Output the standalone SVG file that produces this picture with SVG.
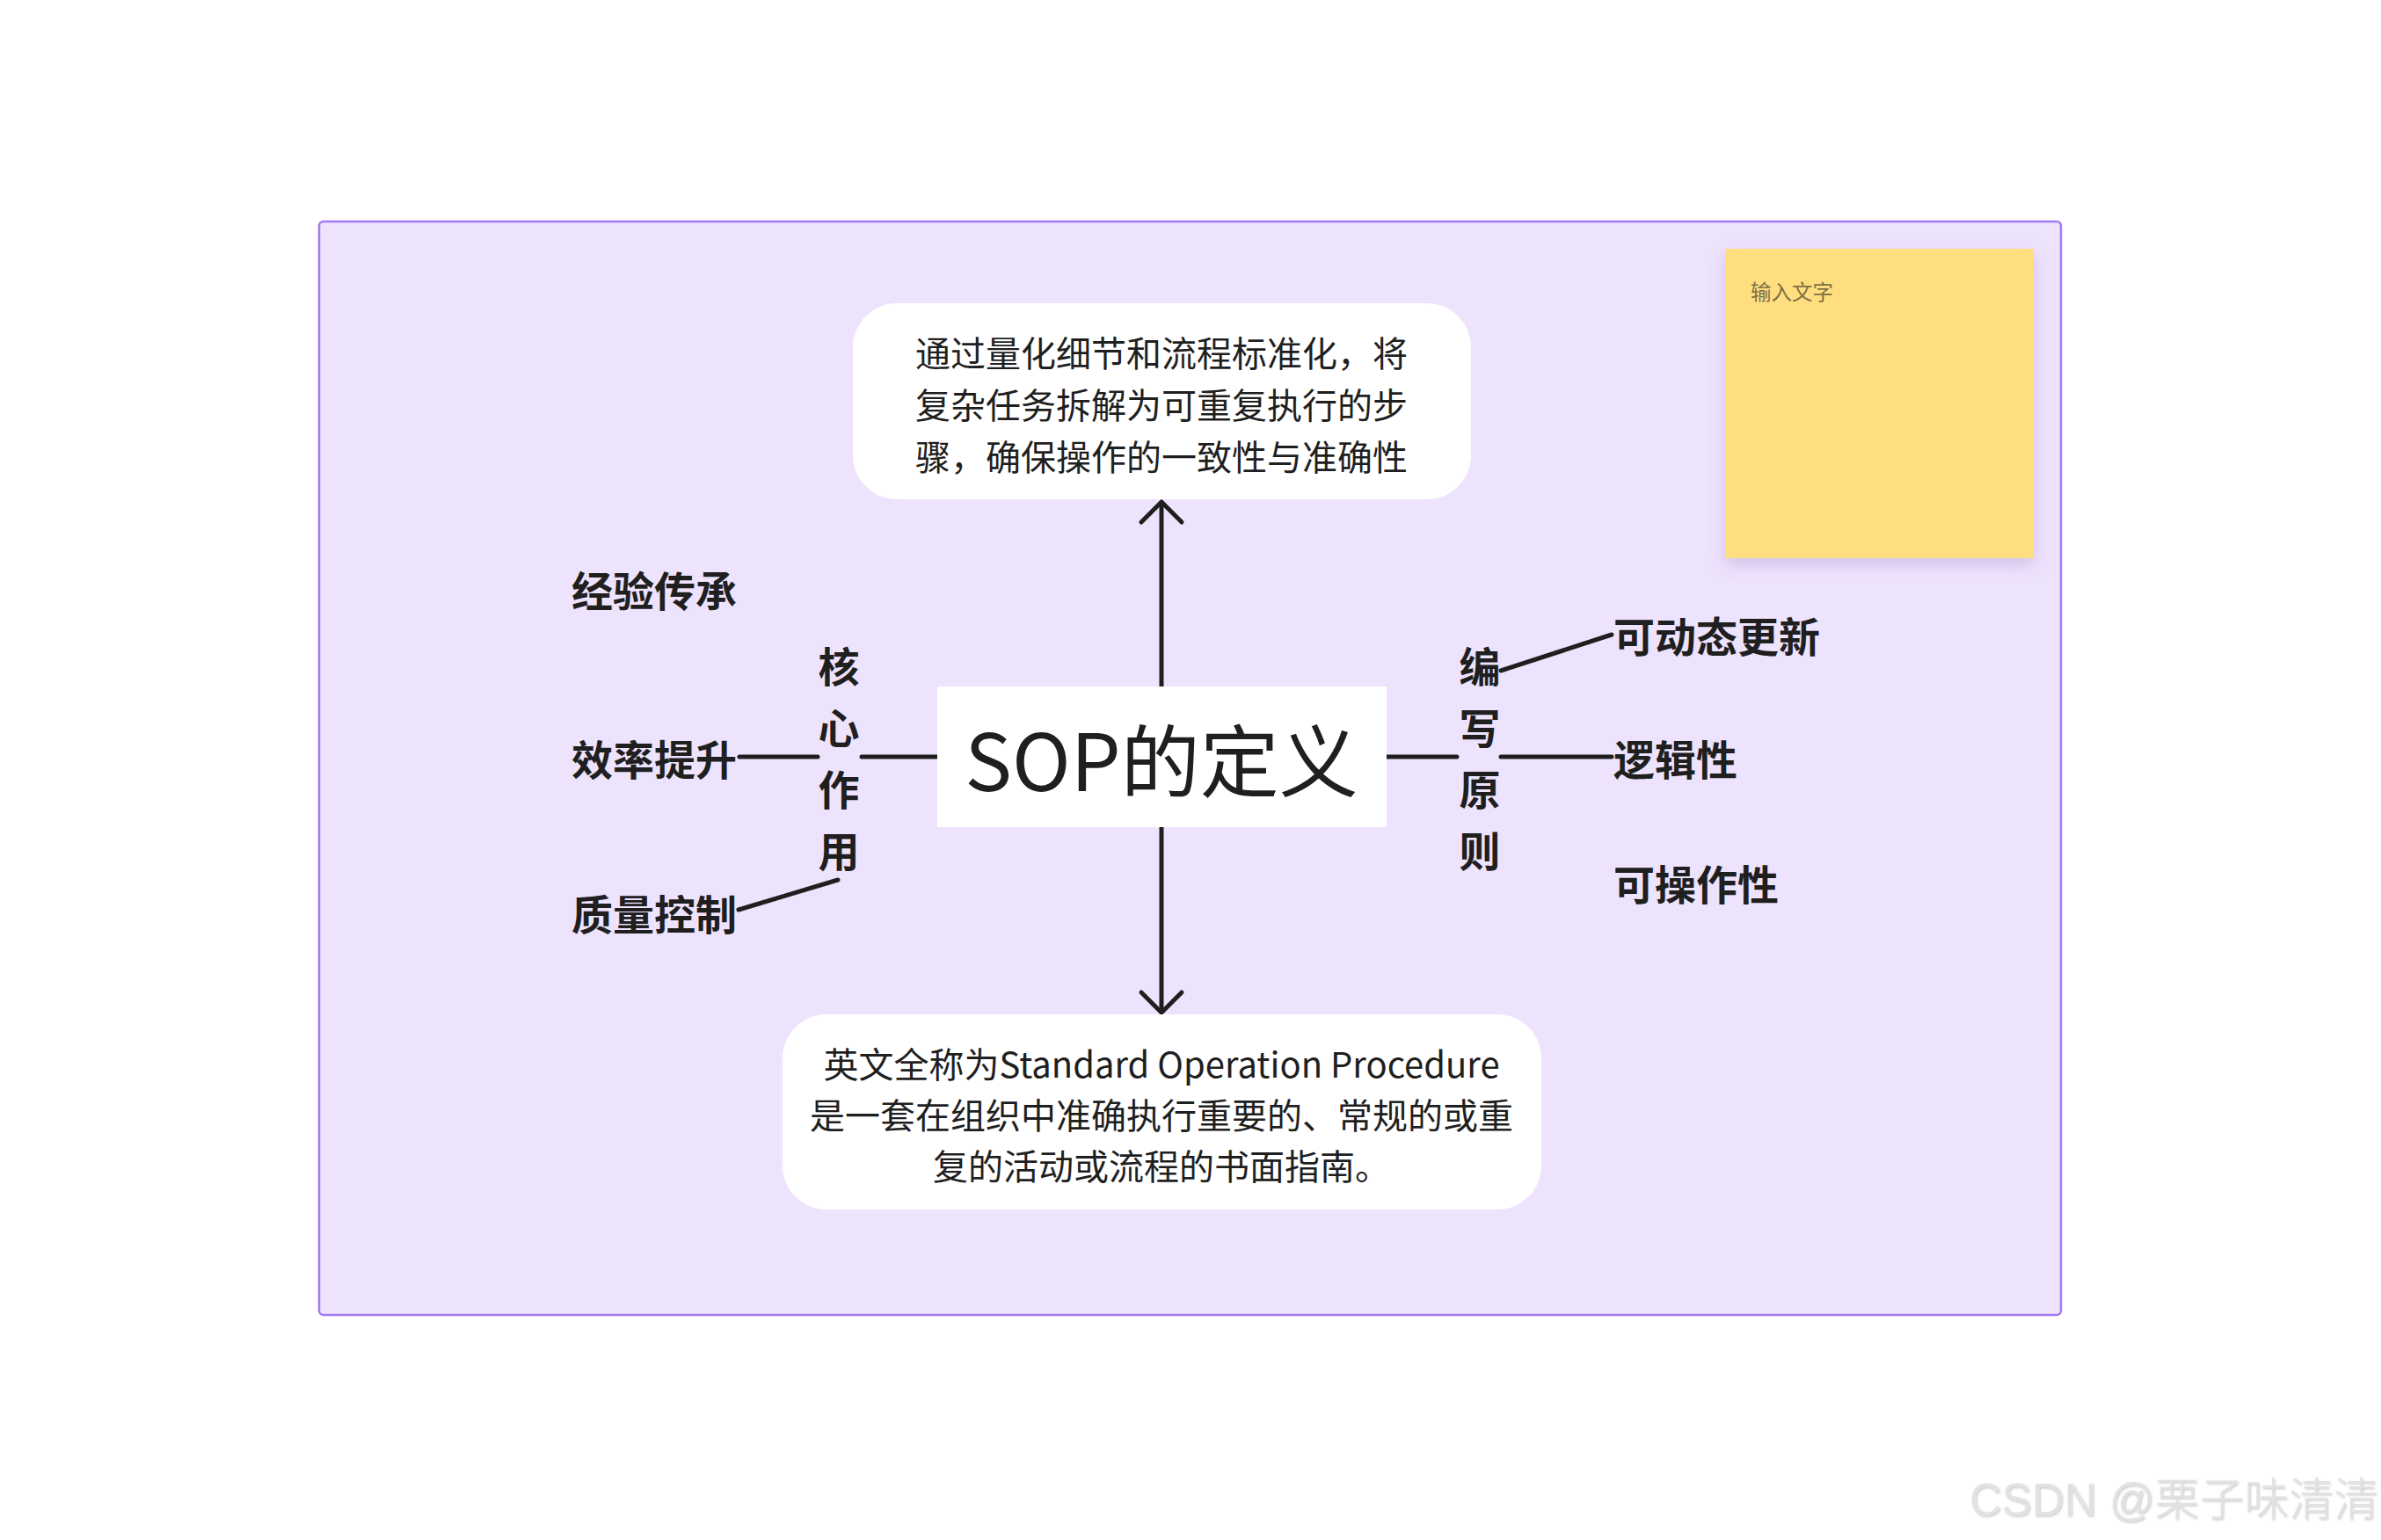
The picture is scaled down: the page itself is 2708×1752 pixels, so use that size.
<svg xmlns="http://www.w3.org/2000/svg" width="2708" height="1752" viewBox="0 0 2708 1752">
<defs>
<style>
.cjk{font-family:"Noto Sans CJK SC","Noto Sans",sans-serif;fill:#1f1f1f}
.body{font-size:40px}
.lbl{font-size:47px;font-weight:bold}
.conn{stroke:#1f1f1f;stroke-width:5;fill:none;stroke-linecap:round;stroke-linejoin:round}
</style>
<filter id="sh" x="-20%" y="-20%" width="140%" height="150%">
<feDropShadow dx="0" dy="8" stdDeviation="9" flood-color="#7a5fa8" flood-opacity="0.25"/>
</filter>
<filter id="wm" x="-5%" y="-20%" width="110%" height="140%">
<feDropShadow dx="1" dy="1.5" stdDeviation="0.8" flood-color="#888" flood-opacity="0.45"/>
</filter>
</defs>
<rect width="2708" height="1752" fill="#ffffff"/>
<g id="frame">
<rect x="363" y="252" width="1981" height="1244" rx="5" fill="#EEE3FD" stroke="#A47AF3" stroke-width="2.5"/>
</g>
<g id="sticky">
<rect x="1962" y="283" width="351" height="352" fill="#FFDE80" filter="url(#sh)"/>
<text x="1991" y="341" style="font-family:'Noto Sans CJK SC',sans-serif;font-size:23.5px;fill:#7d6f45">输入文字</text>
</g>
<g id="connectors">
<line class="conn" x1="1321" y1="781" x2="1321" y2="572"/>
<polyline class="conn" points="1298,594 1321,571 1344,594"/>
<line class="conn" x1="1321" y1="941" x2="1321" y2="1151"/>
<polyline class="conn" points="1298,1129 1321,1152 1344,1129"/>
<line class="conn" x1="1066" y1="861" x2="980" y2="861" stroke-linecap="butt"/>
<line class="conn" x1="930" y1="861" x2="841" y2="861" stroke-linecap="butt"/>
<line class="conn" x1="953" y1="1001" x2="840" y2="1035" stroke-linecap="butt"/>
<line class="conn" x1="1577" y1="861" x2="1657" y2="861" stroke-linecap="butt"/>
<line class="conn" x1="1707" y1="861" x2="1833" y2="861" stroke-linecap="butt"/>
<line class="conn" x1="1707" y1="763" x2="1833" y2="722" stroke-linecap="butt"/>
</g>
<g id="top-box">
<rect x="970" y="345" width="703" height="223" rx="50" fill="#ffffff"/>
<text class="cjk body" text-anchor="middle"><tspan x="1321" y="417">通过量化细节和流程标准化，将</tspan><tspan x="1321" y="476">复杂任务拆解为可重复执行的步</tspan><tspan x="1321" y="535">骤，确保操作的一致性与准确性</tspan></text>
</g>
<g id="center">
<rect x="1066" y="781" width="511" height="160" fill="#ffffff"/>
<text class="cjk" x="1321" y="900" text-anchor="middle" style="font-size:90px">SOP的定义</text>
</g>
<g id="bottom-box">
<rect x="890" y="1154" width="863" height="222" rx="50" fill="#ffffff"/>
<text class="cjk body" text-anchor="middle"><tspan x="1321" y="1226">英文全称为Standard Operation Procedure</tspan><tspan x="1321" y="1284">是一套在组织中准确执行重要的、常规的或重</tspan><tspan x="1321" y="1342">复的活动或流程的书面指南。</tspan></text>
</g>
<g id="core">
<text class="cjk lbl" text-anchor="middle"><tspan x="954" y="776">核</tspan><tspan x="954" y="846">心</tspan><tspan x="954" y="916">作</tspan><tspan x="954" y="986">用</tspan></text>
</g>
<g id="core-1"><text class="cjk lbl" x="650" y="690">经验传承</text></g>
<g id="core-2"><text class="cjk lbl" x="650" y="882">效率提升</text></g>
<g id="core-3"><text class="cjk lbl" x="650" y="1058">质量控制</text></g>
<g id="principle">
<text class="cjk lbl" text-anchor="middle"><tspan x="1683" y="776">编</tspan><tspan x="1683" y="846">写</tspan><tspan x="1683" y="916">原</tspan><tspan x="1683" y="986">则</tspan></text>
</g>
<g id="principle-1"><text class="cjk lbl" x="1835" y="742">可动态更新</text></g>
<g id="principle-2"><text class="cjk lbl" x="1835" y="882">逻辑性</text></g>
<g id="principle-3"><text class="cjk lbl" x="1835" y="1024">可操作性</text></g>
<text x="2240" y="1724" filter="url(#wm)" style="font-family:'Liberation Sans','Noto Sans CJK SC',sans-serif;font-size:51px;font-weight:300;fill:#e2e2e2">CSDN @栗子味清清</text>
</svg>
